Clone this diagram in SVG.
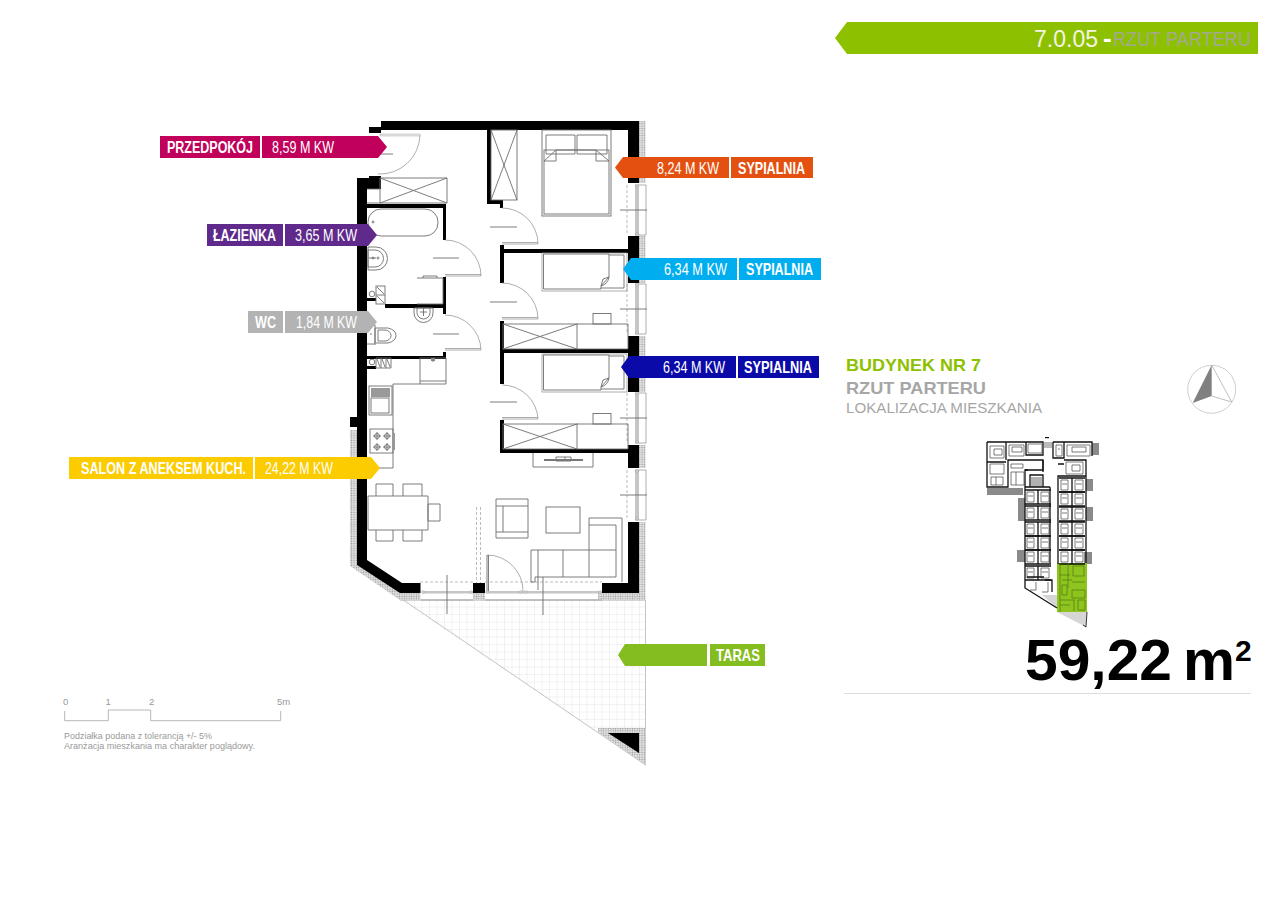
<svg xmlns="http://www.w3.org/2000/svg" width="1280" height="905" viewBox="0 0 1280 905">
<style>
.lb{font-family:"Liberation Sans Narrow","Liberation Sans",Arial,sans-serif;font-size:17px;fill:#fff}
.b{font-weight:bold}
.g{fill:none;stroke:#6e6e6e;stroke-width:.9}
.lt{fill:none;stroke:#999;stroke-width:.8}
.dash{fill:none;stroke:#aaa;stroke-width:.8;stroke-dasharray:3 2}
.wall{fill:#000}
.s{font-family:"Liberation Sans",Arial,sans-serif}
.m{fill:none;stroke:#111;stroke-width:1.300}
.m2{fill:none;stroke:#444;stroke-width:.7}
.gr{fill:none;stroke:#4f7a08;stroke-width:.7}
</style>
<defs>
<pattern id="grid" width="7.5" height="7.5" patternUnits="userSpaceOnUse" x="400" y="600"><path d="M7.5 0V7.5M0 7.5H7.5" fill="none" stroke="#dcdcdc" stroke-width=".7"/></pattern>
<pattern id="ins" width="2.4" height="2.4" patternUnits="userSpaceOnUse"><rect width="2.4" height="2.4" fill="#e6e6e6"/><circle cx="1.2" cy="1.2" r=".75" fill="#9a9a9a"/></pattern>
<g id="windowV"><path class="dash" d="M0 0V50"/><rect x="8" y="0" width="4" height="50" fill="#c6c6c6"/><path class="lt" d="M8 0H19V50H8"/><circle cx="10" cy="1" r="1.2" fill="#fff" stroke="#777" stroke-width=".5"/><circle cx="10" cy="49" r="1.2" fill="#fff" stroke="#777" stroke-width=".5"/><path class="g" d="M-7 25H20"/></g>
<g id="bedS"><rect x="0" y="0" width="85" height="38" class="lt"/><path class="g" d="M1.500 1H67V24L59 33V36H1.500Z"/><path class="g" d="M67 2H82V35H59M67 24Q66 31 59 33M67 24L61 26L59 33"/></g>
<g id="ward"><rect x="0" y="0" width="74" height="25" class="g"/><path class="g" d="M0 0L74 25M0 25L74 0M74 0H125V25H74"/><rect x="90" y="-10.500" width="18" height="10.500" class="g"/></g>
<g id="mcell"><path class="m" d="M0 0H26M0 14H26M13 0V14"/><path class="m2" d="M2 2H9V12H2ZM16 2H24V12H16ZM3 6H8M17 6H23"/></g>
</defs>
<rect width="1280" height="905" fill="#fff"/>

<g id="terrace">
<path d="M400 600H645.500V765Z" fill="url(#grid)"/>
<path d="M352 565L645.500 765V600" fill="none" stroke="#bdbdbd" stroke-width=".9"/>
<path class="lt" d="M400 600H645.500"/>
</g>

<g id="insulation">
<path d="M639 121H645.500V183H639Z M639 236H645.500V283H639Z M639 336H645.500V392H639Z M639 445H645.500V468H639Z M639 522H645.500V600H598V593H639Z" fill="url(#ins)"/>
<path d="M350 430H357V565L401 593H420.500V600H400L350 566Z M473 593H485V600H473Z" fill="url(#ins)"/>
<path d="M598 728H645.500V765L598 732Z" fill="url(#ins)"/>
<path d="M608 733H639V753Z" fill="#000"/>
</g>

<g id="walls">
<path class="wall" d="M381 121H639V183H628V130H381ZM369 127H381V133H369Z"/>
<rect class="wall" x="628" y="236" width="11" height="47"/>
<rect class="wall" x="628" y="336" width="11" height="56"/>
<rect class="wall" x="628" y="445" width="11" height="23"/>
<path class="wall" d="M628 522H639V593H602V583H628Z"/>
<path class="wall" d="M357 178H369V176H381V189H367V560L402 583H420.500V593H400L357 565Z"/>
<rect class="wall" x="350" y="417" width="7" height="10"/>
<rect class="wall" x="473" y="583" width="12" height="10"/>
<path class="wall" d="M487 130H491V200H503V208H500V204H487Z"/>
<path class="wall" d="M500 245H504V249H628V253H504V283H500Z"/>
<path class="wall" d="M500 321H504V349H628V353H504V384H500Z"/>
<path class="wall" d="M500 420H504V449H628V453H500Z"/>
<path class="wall" d="M367 204H446V240H443V208H367Z"/>
<path class="wall" d="M443 277H446V314H443V308H385V304H443Z"/>
<path class="wall" d="M443 352H446V359H374V356H443Z"/>
<rect class="wall" x="367" y="356" width="7" height="3"/>
<rect class="wall" x="367" y="366" width="9" height="3"/>
<rect class="wall" x="367" y="298" width="9" height="3"/>
</g>

<g id="doors">
<path class="lt" d="M420 135A40 40 0 0 1 378 174"/><rect x="380" y="134" width="40" height="2" fill="#e8e8e8" stroke="#999" stroke-width=".4"/>
<path class="g" d="M380 154H393"/>
<path class="lt" d="M538 244A36 36 0 0 0 502 208M502 244H538M502 242.500H538"/><path class="g" d="M490 227H517"/>
<path class="lt" d="M538 319A36 36 0 0 0 502 283M502 319H538M502 317.500H538"/><path class="g" d="M490 302H517"/>
<path class="lt" d="M538 419A36 36 0 0 0 502 385M502 419H538M502 417.500H538"/><path class="g" d="M490 402H517"/>
<path class="lt" d="M481 276A36 36 0 0 0 445 240M445 276H481M445 274.500H481"/><path class="g" d="M433 258H459"/>
<path class="lt" d="M481 350A36 36 0 0 0 445 315M445 350H481M445 348.500H481"/><path class="g" d="M433 334H459"/>
<path class="lt" d="M487 555A36 36 0 0 1 523 591"/><path class="g" d="M487 555V592M488.500 555V592"/>
</g>

<g id="windows">
<use href="#windowV" x="627" y="185"/>
<use href="#windowV" x="627" y="284"/>
<use href="#windowV" x="627" y="393"/>
<use href="#windowV" x="627" y="470"/>
<path class="dash" d="M420 582H473M485 582H602"/>
<rect x="422" y="591" width="51" height="2.500" fill="#c6c6c6"/><rect x="487" y="591" width="115" height="2.500" fill="#c6c6c6"/>
<path class="lt" d="M421 600H473M485 600H602"/>
<path class="g" d="M447 575V614M543 577V615"/>
<path class="dash" d="M476.500 507V583M480.500 507V583"/>
<g fill="#fff" stroke="#777" stroke-width=".5"><circle cx="423" cy="592" r="1.200"/><circle cx="471" cy="592" r="1.200"/><circle cx="487" cy="592" r="1.200"/><circle cx="521" cy="592" r="1.200"/><circle cx="526" cy="592" r="1.200"/><circle cx="600" cy="592" r="1.200"/></g>
</g>

<g id="furniture">
<rect class="g" x="491" y="130" width="26" height="70"/><path class="g" d="M491 130L517 200M517 130L491 200"/>
<path class="g" d="M380 178H447V203H380ZM380 178L447 203M447 178L380 203M367 189H380M367 203H380"/>
<rect class="g" x="542" y="130" width="69" height="86"/><rect class="g" x="544" y="150" width="65" height="64"/>
<path class="g" d="M546 135H575V154H546ZM577 135H607V154H577Z"/>
<path class="g" d="M544 161L556 150V161ZM609 161L596 150V161Z" fill="#fff"/>
<path class="g" d="M556 150H596"/>
<rect class="g" x="368" y="209" width="70" height="27" rx="13" fill="#fff"/>
<circle cx="373" cy="222" r="1" class="g"/>
<path class="g" d="M368 247H376A11.500 11.500 0 0 1 376 270H368ZM368 250H375A8.500 8.500 0 0 1 375 267H368ZM369 258H376"/>
<circle cx="378" cy="258" r="1" class="g"/><circle cx="373" cy="258" r="1" class="g"/>
<rect class="g" x="376" y="286" width="9" height="18"/><path class="g" d="M376 295H385M377 287L384 294M377 296L384 303"/><circle class="g" cx="372" cy="294" r="2.800"/>
<path class="g" d="M417 278H443V304H417M423 278V276H437V278"/>
<path class="g" d="M414 308V313A9.500 9.500 0 0 0 433 313V308ZM417 308V312.500A6.500 6.500 0 0 0 430 312.500V308ZM423.500 308V316M420 312H427"/>
<path class="g" d="M375 328H388Q396 330 396 335.500Q396 341 388 343H375ZM378 330H385A6 5.500 0 0 1 385 341H378ZM375 325V345M367 325H375M367 344H375"/>
<circle cx="371" cy="334" r=".8" fill="#666"/>
<path class="g" d="M376 358H391V368H376ZM381 358V368M386 358V368M377 359L380 367M382 359L385 367M387 359L390 367"/><circle class="g" cx="372" cy="362" r="2.800"/>
<path class="g" d="M393 384H420M393 384V468H367"/>
<path class="g" d="M420 358H446V384H420ZM420 381H446M433 358V362"/><rect x="431" y="358" width="4" height="3" fill="#888"/>
<rect class="g" x="369" y="386" width="23" height="29"/><rect x="371" y="388" width="19" height="9" fill="#999"/><rect class="g" x="371" y="398" width="18" height="15"/>
<rect class="g" x="370" y="429" width="23" height="24"/>
<g class="g"><circle cx="377" cy="436" r="2.500"/><circle cx="387" cy="436" r="2.500"/><circle cx="377" cy="447" r="2.500"/><circle cx="387" cy="447" r="2.500"/><path d="M373 436H381M383 436H391M373 447H381M383 447H391M377 432V440M387 432V440M377 443V451M387 443V451"/></g>
<rect x="393" y="433" width="2" height="17" fill="#999"/>
<path class="g" d="M368 496H428V530H368ZM376 496V484H393V496M403 496V484H422V496M376 530V541H393V530M403 530V541H422V530M428 504H440V521H428Z"/>
<use href="#bedS" x="542" y="253"/>
<use href="#bedS" x="542" y="354"/>
<use href="#ward" x="503" y="324"/>
<use href="#ward" x="503" y="424"/>
<path class="g" d="M496 499H528V538H496ZM496 506H528M496 532H528M503 506V532"/>
<rect class="g" x="546" y="507" width="34" height="26"/>
<path class="g" d="M589 550V518H622V582M589 525H616M616 525V577M531 550H616M531 550V582H535V577H616M538 550V577M563 550V577M589 550V577M538 577V590"/>
<path class="g" d="M533 453V467H593V453M556 457H565V461H556ZM565 457H571V461H565"/><rect x="544" y="459" width="39" height="2" fill="#777"/>
</g>

<g id="label-przedpokoj">
<rect x="160" y="136" width="100" height="22" fill="#c0005a"/><path d="M262 136H378L387 147L378 158H262Z" fill="#c0005a"/>
<text class="lb b" transform="translate(167 153) scale(.8 1)" x="0" y="0" textLength="107.500" lengthAdjust="spacingAndGlyphs">PRZEDPOKÓJ</text>
<text class="lb" x="272" y="153" textLength="62" lengthAdjust="spacingAndGlyphs">8,59 M KW</text>
</g>
<g id="label-lazienka">
<rect x="207" y="224" width="76" height="22" fill="#5f2a8c"/><path d="M285 224H368L377 235L368 246H285Z" fill="#5f2a8c"/>
<text class="lb b" x="213" y="241" textLength="63" lengthAdjust="spacingAndGlyphs">ŁAZIENKA</text>
<text class="lb" x="295" y="241" textLength="62" lengthAdjust="spacingAndGlyphs">3,65 M KW</text>
</g>
<g id="label-wc">
<rect x="248" y="311" width="35" height="22" fill="#b3b3b3"/><path d="M285 311H368L377 322L368 333H285Z" fill="#b3b3b3"/>
<text class="lb b" x="255" y="328" textLength="21" lengthAdjust="spacingAndGlyphs">WC</text>
<text class="lb" x="296" y="328" textLength="61" lengthAdjust="spacingAndGlyphs">1,84 M KW</text>
</g>
<g id="label-salon">
<rect x="69" y="457" width="184" height="22" fill="#fccb00"/><path d="M255 457H371L380 468L371 479H255Z" fill="#fccb00"/>
<text class="lb b" transform="translate(81 474) scale(.8 1)" x="0" y="0" textLength="206.250" lengthAdjust="spacingAndGlyphs">SALON Z ANEKSEM KUCH.</text>
<text class="lb" x="265" y="474" textLength="68" lengthAdjust="spacingAndGlyphs">24,22 M KW</text>
</g>
<g id="label-sypialnia-1">
<path d="M623 157H729V178H623L615 167.500Z" fill="#e4500f"/><rect x="731" y="157" width="82" height="21" fill="#e4500f"/>
<text class="lb" x="657" y="173.500" textLength="62" lengthAdjust="spacingAndGlyphs">8,24 M KW</text>
<text class="lb b" x="738" y="173.500" textLength="67" lengthAdjust="spacingAndGlyphs">SYPIALNIA</text>
</g>
<g id="label-sypialnia-2">
<path d="M631 258H737V280H631L623 269Z" fill="#00aeef"/><rect x="739" y="258" width="82" height="22" fill="#00aeef"/>
<text class="lb" x="664" y="275" textLength="63" lengthAdjust="spacingAndGlyphs">6,34 M KW</text>
<text class="lb b" x="746" y="275" textLength="67" lengthAdjust="spacingAndGlyphs">SYPIALNIA</text>
</g>
<g id="label-sypialnia-3">
<path d="M629 356H736V378H629L621 367Z" fill="#0a0aa8"/><rect x="738" y="356" width="81" height="22" fill="#0a0aa8"/>
<text class="lb" x="663" y="373" textLength="62" lengthAdjust="spacingAndGlyphs">6,34 M KW</text>
<text class="lb b" x="744" y="373" textLength="68" lengthAdjust="spacingAndGlyphs">SYPIALNIA</text>
</g>
<g id="label-taras">
<path d="M625 644H707V666H625L618 655Z" fill="#84bd1f"/><rect x="710" y="644" width="55" height="22" fill="#84bd1f"/>
<text class="lb b" x="716" y="661" textLength="44" lengthAdjust="spacingAndGlyphs">TARAS</text>
</g>

<g id="scale">
<path d="M64.700 711V720.700H108.300V710H150.700V720.700H280.700V711" fill="none" stroke="#b0b0b0" stroke-width=".9"/>
<g class="s" font-size="9.500" fill="#999">
<text x="63" y="705">0</text><text x="105.500" y="705">1</text><text x="149" y="705">2</text><text x="277" y="705">5m</text>
<text x="64" y="738.500" textLength="148" lengthAdjust="spacingAndGlyphs">Podziałka podana z tolerancją +/- 5%</text>
<text x="64" y="748.500" textLength="191" lengthAdjust="spacingAndGlyphs">Aranżacja mieszkania ma charakter poglądowy.</text>
</g>
</g>

<g id="header">
<path d="M847 22H1258V54H847L835 38Z" fill="#8dc100"/>
<text class="s" x="1034" y="47" font-size="24" fill="#f4f4e0" textLength="64" lengthAdjust="spacingAndGlyphs">7.0.05</text>
<text class="s" x="1103" y="47" font-size="26" font-weight="bold" fill="#fff">-</text>
<text class="s" x="1113" y="46" font-size="20" fill="#a3a98e" textLength="138" lengthAdjust="spacingAndGlyphs">RZUT PARTERU</text>
</g>

<g id="info">
<text class="s" x="846" y="371" font-size="17" font-weight="bold" fill="#8dc100" textLength="135" lengthAdjust="spacingAndGlyphs">BUDYNEK NR 7</text>
<text class="s" x="846" y="394" font-size="16.500" font-weight="bold" fill="#a6a6a6" textLength="140" lengthAdjust="spacingAndGlyphs">RZUT PARTERU</text>
<text class="s" x="846" y="413" font-size="15" fill="#a6a6a6" textLength="196" lengthAdjust="spacingAndGlyphs">LOKALIZACJA MIESZKANIA</text>
</g>

<g id="compass">
<circle cx="1211.700" cy="389.300" r="24" fill="none" stroke="#c8c8c8" stroke-width=".9"/>
<path d="M1211.700 365L1192.700 403L1211.700 396Z" fill="#808080"/>
<path d="M1211.700 365L1231.700 402L1211.700 396" fill="none" stroke="#b0b0b0" stroke-width=".8"/>
</g>

<g id="minimap">
<path d="M1042 595H1057V608ZM1057 612H1087L1086 627Z" fill="#d6d6d6"/>
<g fill="#8a8a8a"><rect x="1092" y="443" width="7" height="12"/><rect x="987" y="488" width="36" height="7"/><rect x="1086" y="479" width="7" height="12"/><rect x="1018" y="498" width="7" height="23"/><rect x="1086" y="507" width="7" height="14"/><rect x="1017" y="550" width="8" height="12"/><rect x="1084" y="552" width="8" height="12"/></g>
<rect x="1044" y="442" width="8" height="6" fill="#bbb"/>
<rect x="1045" y="437" width="4" height="1.200" fill="#111"/>
<rect x="1057" y="563" width="30" height="49" fill="#8fc31f"/>
<path class="m" d="M987 442H1043V455H1026V442M987 442V487H1008V460H1043V470H1025V487M1006 442V460M987 462H1006M1053 442H1092V456M1053 442V458H1064V442M1064 460H1086V476H1058V564M1086 476V563M1058 464H1064"/>
<path class="m" d="M1025 487V588L1057 608M1025 470H1028M1043 460V472M1043 487V475H1030V487M1025 487H1050M1050 487V563"/>
<path d="M1031 478H1042M1031 480H1042M1031 482H1042M1031 484H1042M1031 486H1042" stroke="#222" stroke-width=".7"/>
<use href="#mcell" x="1059" y="478"/><use href="#mcell" x="1059" y="492"/><use href="#mcell" x="1059" y="507"/><use href="#mcell" x="1059" y="522"/><use href="#mcell" x="1059" y="536"/><use href="#mcell" x="1059" y="550"/>
<use href="#mcell" x="1025" y="490"/><use href="#mcell" x="1025" y="506"/><use href="#mcell" x="1025" y="522"/><use href="#mcell" x="1025" y="536"/><use href="#mcell" x="1025" y="550"/><use href="#mcell" x="1025" y="566"/>
<path class="m" d="M1027 577H1044M1045 580H1052V592"/>
<path class="m2" d="M990 446H1004V458H990ZM994 449H1002V455H994ZM990 464H1004V474H990ZM991 477H1003V485H991ZM996 477V485M1009 445H1024V456H1009ZM1012 447H1022V452H1012ZM1011 464H1023V468H1011ZM1011 472H1024V485H1011ZM1016 472V485M1028 444H1042V453H1028ZM1056 445H1062V456H1056ZM1058 449H1060M1067 445H1090V456H1067ZM1072 447H1086V452H1072ZM1066 462H1083V474H1066ZM1072 465H1080V471H1072ZM1030 590H1036M1036 582V590M1048 582V592H1042"/>
<path class="gr" d="M1060 563V612M1060 575H1070M1068 563V588M1062 580H1072M1073 566H1084V576H1073ZM1072 582H1085M1072 590H1085V598H1072ZM1060 600H1075M1074 600V611M1078 600H1085V610H1078ZM1062 585H1067V595H1062ZM1060 605H1070"/>
<path d="M1087 612L1086 627L1083 625" fill="none" stroke="#222" stroke-width=".9"/>
</g>

<g id="area">
<text class="s" x="1025" y="680" font-size="57" font-weight="bold" fill="#000" textLength="147" lengthAdjust="spacingAndGlyphs">59,22</text>
<text class="s" x="1183" y="680" font-size="57" font-weight="bold" fill="#000" textLength="52" lengthAdjust="spacingAndGlyphs">m</text>
<text class="s" x="1235" y="661" font-size="30" font-weight="bold" fill="#000">2</text>
<path d="M844 693.500H1251" stroke="#ddd" stroke-width="1"/>
</g>
</svg>
